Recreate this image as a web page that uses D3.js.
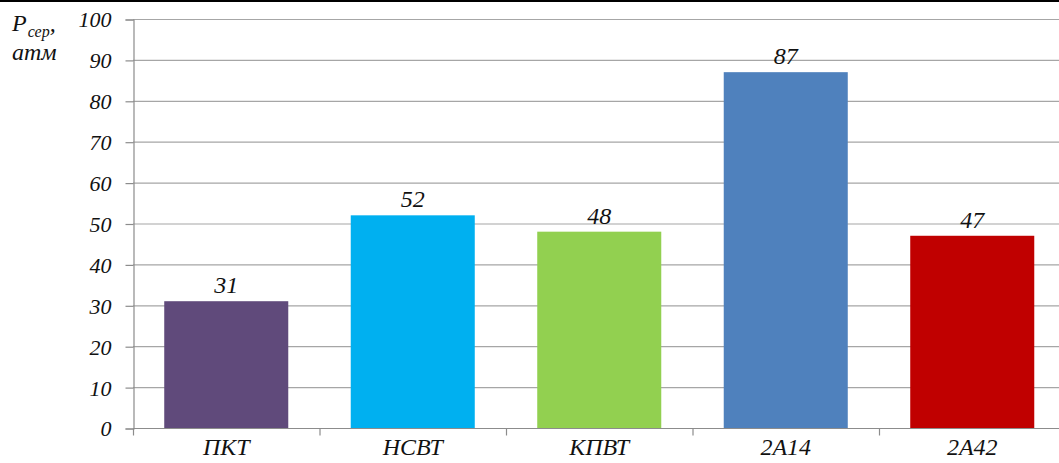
<!DOCTYPE html>
<html>
<head>
<meta charset="utf-8">
<script src="https://cdn.jsdelivr.net/npm/d3@7"></script>
<style>
  html, body { margin: 0; padding: 0; background: #fff; }
  svg { display: block; }
</style>
</head>
<body>
<svg id="chart" width="1059" height="463"></svg>
<script>
// Mean pressure by weapon type
const categories = ["ПКТ", "НСВТ", "КПВТ", "2А14", "2А42"];
const values = [31, 52, 48, 87, 47];
const colors = ["#604A7B", "#00B0F0", "#92D050", "#4F81BD", "#C00000"];
const yTicks = [0, 10, 20, 30, 40, 50, 60, 70, 80, 90, 100];

const FONT = "Liberation Serif, DejaVu Serif, Times New Roman, serif";

const svg = d3.select("#chart");
const W = 1059;
const plotLeft = 133, plotTop = 19, plotBottom = 428;
const step = 186.5;

const x = d3.scaleBand().domain(categories).range([plotLeft, plotLeft + step * categories.length]).padding(0);
const y = d3.scaleLinear().domain([0, 100]).range([plotBottom, plotTop]);

function serif(sel, size) {
  return sel.attr("font-family", FONT).attr("font-style", "italic")
    .attr("font-size", size).attr("fill", "#111");
}

// top border
svg.append("line").attr("x1", 0).attr("x2", W).attr("y1", 1).attr("y2", 1)
  .attr("stroke", "#000").attr("stroke-width", 2);

// horizontal gridlines
svg.append("g").selectAll("line").data(yTicks.filter(d => d > 0)).join("line")
  .attr("x1", plotLeft).attr("x2", W)
  .attr("y1", d => y(d) + 0.5).attr("y2", d => y(d) + 0.5)
  .attr("stroke", "#a6a6a6").attr("stroke-width", 1.2);

// y axis
const yAxis = d3.axisLeft(y).tickValues(yTicks).tickSize(8).tickPadding(14).tickFormat(d3.format("d"));
const gy = svg.append("g").attr("transform", `translate(${plotLeft + 0.5},0.5)`).call(yAxis);
gy.attr("font-family", FONT).attr("font-size", 22).attr("font-style", "italic");
gy.select(".domain").attr("stroke", "#8c8c8c").attr("stroke-width", 1.2);
gy.selectAll(".tick line").attr("stroke", "#8c8c8c").attr("stroke-width", 1.2);
serif(gy.selectAll(".tick text"), 22).attr("dy", "0.34em");

// bars
const barW = x.bandwidth() * 0.665;
svg.append("g").selectAll("rect").data(values).join("rect")
  .attr("x", (d, i) => x(categories[i]) + (x.bandwidth() - barW) / 2)
  .attr("y", d => y(d))
  .attr("width", barW)
  .attr("height", d => y(0) - y(d))
  .attr("fill", (d, i) => colors[i]);

// x axis
const gx = svg.append("g").attr("transform", `translate(0,${plotBottom + 0.5})`);
gx.append("line").attr("x1", plotLeft).attr("x2", W).attr("stroke", "#8c8c8c").attr("stroke-width", 1.2);
gx.selectAll("line.sep").data(d3.range(categories.length)).join("line").attr("class", "sep")
  .attr("x1", i => x(categories[i]) + 0.5).attr("x2", i => x(categories[i]) + 0.5)
  .attr("y1", 0).attr("y2", 7).attr("stroke", "#8c8c8c").attr("stroke-width", 1.2);
serif(gx.selectAll("text.cat").data(categories).join("text").attr("class", "cat")
  .attr("x", d => x(d) + x.bandwidth() / 2)
  .attr("y", 26)
  .attr("text-anchor", "middle"), 24)
  .text(d => d);

// value labels
serif(svg.append("g").selectAll("text").data(values).join("text")
  .attr("x", (d, i) => x(categories[i]) + x.bandwidth() / 2)
  .attr("y", d => y(d) - 8)
  .attr("text-anchor", "middle"), 24)
  .text(d => d);

// y axis title
const t = serif(svg.append("text").attr("x", 12).attr("y", 31), 24);
t.append("tspan").text("P");
t.append("tspan").attr("font-size", 16).attr("dy", 6).attr("dx", 1).text("сер");
t.append("tspan").attr("dy", -6).text(",");
serif(svg.append("text").attr("x", 12).attr("y", 60), 24).text("атм");
</script>
</body>
</html>
